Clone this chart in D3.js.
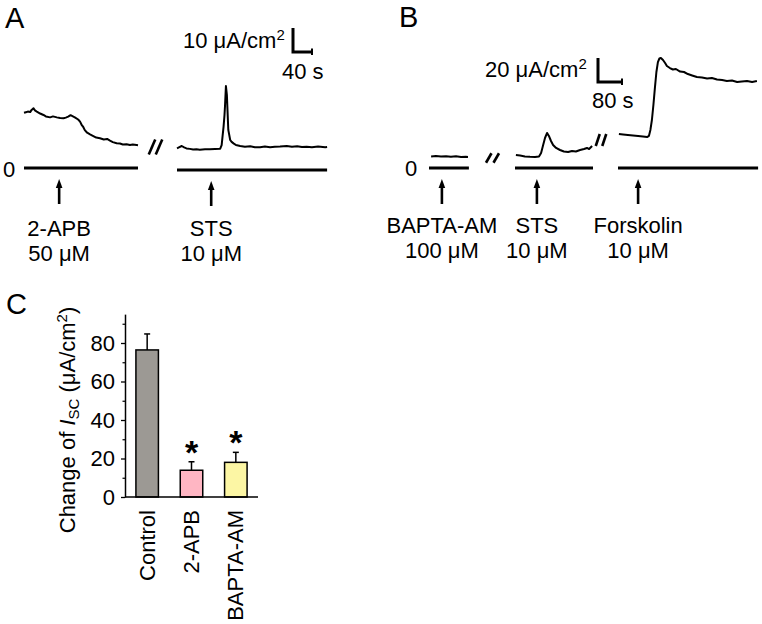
<!DOCTYPE html>
<html><head><meta charset="utf-8">
<script src="https://cdn.jsdelivr.net/npm/d3@7"></script>
<style>
body{margin:0;background:#fff}
svg{display:block}
text{font-family:"Liberation Sans",Arial,Helvetica,sans-serif;fill:#000}
</style>
</head><body>
<svg id="c" width="762" height="624"></svg>
<script>
// ---------- DATA ----------
// Panel A, segment 1 (2-APB): time (s), Isc (µA/cm²)
const a1Time    = [0,4,8,13,16,20,23,27,34,41,46,55,61,69,76,83,88,93,98,103,107,114,118,121,125,128,133,139,146,152,160,168,175,181,187,195,202,208,216,223,229,237,240];
const a1Current = [23.0,23.25,23.5,23.3,24.2,24.9,24.0,23.5,22.7,22.1,21.5,21.1,21.5,21.1,20.8,20.7,21.0,21.4,22.0,21.5,21.1,20.2,19.3,18.1,17.0,15.8,14.7,14.0,13.3,12.7,12.4,11.9,12.1,11.4,10.8,10.3,10.2,9.8,9.9,9.6,9.8,9.6,9.5];
// Panel A, segment 2 (STS)
const a2Time    = [0,4,10,15,20,27,34,41,48,59,69,80,91,94,96,98,100,101,103,105,106,108,112,115,119,124,133,143,154,164,175,185,196,206,217,231,242,253,263,273,284,297,312,316];
const a2Current = [9.0,9.4,10.0,9.4,9.0,8.8,8.5,8.6,8.4,8.6,8.6,8.75,8.9,10.4,14.2,18.0,22.9,26.4,35.0,31.3,26.4,16.7,12.5,11.7,11.1,10.4,10.0,9.7,9.9,9.5,9.5,9.8,9.5,9.7,9.8,10.0,9.7,9.9,9.6,9.7,9.5,9.75,9.5,9.6];
// Panel B, segment 1 (BAPTA-AM)
const b1Time    = [7,23,40,57,73,90,107,123,130];
const b1Current = [9.6,10.0,9.6,9.8,9.3,9.75,9.2,9.3,9.2];
// Panel B, segment 2 (STS)
const b2Time    = [3,17,33,50,67,80,87,93,100,107,113,120,127,137,150,163,177,190,203,217,230,240,247,257];
const b2Current = [10.8,10.4,9.6,9.3,9.2,9.6,12.5,18.3,25.0,29.2,26.7,22.5,19.2,16.7,15.0,13.75,13.3,14.2,13.75,15.0,15.8,16.7,15.8,18.3];
// Panel B, segment 3 (Forskolin)
const b3Time    = [3,17,33,50,67,83,97,103,108,113,118,123,128,133,138,143,150,157,163,173,183,193,207,220,233,247,263,280,297,313,330,347,363,380,397,413,430,447,463];
const b3Current = [28.3,27.9,27.5,27.1,26.7,26.25,25.8,26.7,31.7,40.0,52.5,66.7,80.0,88.3,91.25,91.7,90.0,87.5,85.0,83.3,82.1,82.5,80.4,80.0,78.3,77.1,75.8,75.4,74.6,75.0,73.75,73.3,72.5,72.9,71.7,72.1,72.5,71.7,72.5];

// Drug application times (s) and labels
const arrowTimes  = [74, 72, 43, 73, 67];
const drugNames   = ["2-APB", "STS", "BAPTA-AM", "STS", "Forskolin"];
const drugDoses   = ["50 μM", "10 μM", "100 μM", "10 μM", "10 μM"];
const segDurations = [240, 316, 133, 260, 467];

// Scale bars
const scaleBarA = {current: 10, time: 40};
const scaleBarB = {current: 20, time: 80};

// Panel C
const barCategories = ["Control", "2-APB", "BAPTA-AM"];
const barMeans      = [76.4, 13.9, 18.0];
const barSEM        = [8.3, 4.4, 5.2];
const barSignif     = [false, true, true];
const barColors     = ["#9c9994", "#ffb6c3", "#fcf6a4"];
const yMajorTicks   = [0, 20, 40, 60, 80];
const yMinorTicks   = [10, 30, 50, 70, 90];

// ---------- DRAW ----------
const svg = d3.select("#c");
const FS = 22;

// panel letters
svg.append("text").attr("x", 5).attr("y", 28).attr("font-size", 29).text("A");
svg.append("text").attr("x", 399).attr("y", 27).attr("font-size", 29).text("B");
svg.append("text").attr("x", 6).attr("y", 314).attr("font-size", 29).text("C");

// panel geometry: px per second and px per µA/cm²
const panelA = {pxPerSec: 19 / 40, pxPerUnit: 24 / 10};
const panelB = {pxPerSec: 24 / 80, pxPerUnit: 24 / 20};

const segments = [
  {panel: panelA, x0: 24,  zeroY: 168, t: a1Time, v: a1Current, labelY: 236},
  {panel: panelA, x0: 177, zeroY: 170, t: a2Time, v: a2Current, labelY: 236},
  {panel: panelB, x0: 429, zeroY: 168, t: b1Time, v: b1Current, labelY: 233},
  {panel: panelB, x0: 515, zeroY: 168, t: b2Time, v: b2Current, labelY: 233},
  {panel: panelB, x0: 618, zeroY: 168, t: b3Time, v: b3Current, labelY: 233}
];

segments.forEach((s, i) => {
  const dur = segDurations[i];
  const x = d3.scaleLinear().domain([0, dur]).range([s.x0, s.x0 + dur * s.panel.pxPerSec]);
  const y = d3.scaleLinear().domain([0, 10]).range([s.zeroY, s.zeroY - 10 * s.panel.pxPerUnit]);
  const g = svg.append("g");
  // zero line
  g.append("line").attr("x1", x(0)).attr("x2", x(dur)).attr("y1", y(0)).attr("y2", y(0))
    .attr("stroke", "#000").attr("stroke-width", 3);
  // trace
  const pts = s.t.map((tt, k) => [tt, s.v[k]]);
  g.append("path").datum(pts)
    .attr("d", d3.line().x(d => x(d[0])).y(d => y(d[1])))
    .attr("fill", "none").attr("stroke", "#000").attr("stroke-width", 2).attr("stroke-linejoin", "round");
  // arrow
  const ax = x(arrowTimes[i]);
  const tip = y(0) + 11;
  g.append("line").attr("x1", ax).attr("x2", ax).attr("y1", tip + 6).attr("y2", y(0) + 36)
    .attr("stroke", "#000").attr("stroke-width", 2.6);
  g.append("path").attr("d", `M${ax},${tip} L${ax - 3.3},${tip + 9} L${ax + 3.3},${tip + 9} Z`).attr("fill", "#000");
  // labels
  g.append("text").attr("x", ax).attr("y", s.labelY).attr("text-anchor", "middle").attr("font-size", FS).text(drugNames[i]);
  g.append("text").attr("x", ax).attr("y", s.labelY + 25).attr("text-anchor", "middle").attr("font-size", FS).text(drugDoses[i]);
});

// zero labels
svg.append("text").attr("x", 3).attr("y", 176.5).attr("font-size", FS).text("0");
svg.append("text").attr("x", 405).attr("y", 176).attr("font-size", FS).text("0");

// break marks
function breakMark(cx, cy, w, h, gap) {
  [-gap / 2, gap / 2].forEach(off => {
    svg.append("line")
      .attr("x1", cx + off - w / 2).attr("y1", cy + h / 2)
      .attr("x2", cx + off + w / 2).attr("y2", cy - h / 2)
      .attr("stroke", "#000").attr("stroke-width", 2.6);
  });
}
breakMark(155.5, 147, 6.5, 15, 7);
breakMark(492.5, 158, 5.5, 9.5, 7.5);
breakMark(601, 140, 4, 12, 6.5);

// scale bars
function scaleBar(panel, sb, x, yTop, label, tx, ty, sx, sy) {
  const h = sb.current * panel.pxPerUnit;
  const w = sb.time * panel.pxPerSec;
  svg.append("path").attr("d", `M${x},${yTop} V${yTop + h} H${x + w}`)
    .attr("fill", "none").attr("stroke", "#000").attr("stroke-width", 3).attr("stroke-linejoin", "miter");
  svg.append("line").attr("x1", x + w).attr("x2", x + w).attr("y1", yTop + h - 3.5).attr("y2", yTop + h + 3)
    .attr("stroke", "#000").attr("stroke-width", 2);
  const t = svg.append("text").attr("x", tx).attr("y", ty).attr("font-size", FS);
  t.append("tspan").text(label + " μA/cm");
  t.append("tspan").attr("font-size", 15).attr("dy", -8).text("2");
  svg.append("text").attr("x", sx).attr("y", sy).attr("font-size", FS).text(sb.time + " s");
}
scaleBar(panelA, scaleBarA, 293, 28, String(scaleBarA.current), 183, 48, 282, 79);
scaleBar(panelB, scaleBarB, 598, 58, String(scaleBarB.current), 485, 77, 592, 108);

// ---------- Panel C ----------
const yC = d3.scaleLinear().domain([0, 95]).range([497, 497 - 95 * 1.925]);
const xC = d3.scalePoint().domain(barCategories).range([125, 258]).padding(0.5);
const barW = 22.5;

const gC = svg.append("g");
// bars
barCategories.forEach((c, i) => {
  const cx = xC(c);
  gC.append("rect").attr("x", cx - barW / 2).attr("y", yC(barMeans[i]))
    .attr("width", barW).attr("height", yC(0) - yC(barMeans[i]))
    .attr("fill", barColors[i]).attr("stroke", "#000").attr("stroke-width", 1.5);
  const top = yC(barMeans[i] + barSEM[i]);
  gC.append("line").attr("x1", cx).attr("x2", cx).attr("y1", yC(barMeans[i])).attr("y2", top)
    .attr("stroke", "#000").attr("stroke-width", 1.5);
  gC.append("line").attr("x1", cx - 3).attr("x2", cx + 3).attr("y1", top).attr("y2", top)
    .attr("stroke", "#000").attr("stroke-width", 1.5);
  if (barSignif[i]) {
    gC.append("text").attr("x", cx).attr("y", top + 2).attr("text-anchor", "middle")
      .attr("font-size", 34).attr("font-weight", "bold").text("*");
  }
  gC.append("text").attr("transform", `translate(${cx + 7.5},510) rotate(-90)`)
    .attr("text-anchor", "end").attr("font-size", FS).text(c);
});
// x axis line
gC.append("line").attr("x1", 125).attr("x2", 258).attr("y1", yC(0)).attr("y2", yC(0))
  .attr("stroke", "#000").attr("stroke-width", 1.5);
// y axis
const yAxis = gC.append("g").attr("transform", "translate(125,0)")
  .call(d3.axisLeft(yC).tickValues(yMajorTicks).tickSize(4).tickSizeOuter(0).tickPadding(6));
yAxis.select(".domain").attr("stroke-width", 1.5);
yAxis.selectAll(".tick line").attr("stroke-width", 1.3);
yAxis.selectAll(".tick text").attr("font-size", FS).attr("font-family", "Liberation Sans, Arial, sans-serif").attr("fill", "#000");
const yMinor = gC.append("g").attr("transform", "translate(125,0)")
  .call(d3.axisLeft(yC).tickValues(yMinorTicks).tickSize(2.5).tickFormat(""));
yMinor.select(".domain").remove();
yMinor.selectAll(".tick line").attr("stroke-width", 1.2);

// y label
const yl = svg.append("text").attr("transform", "translate(75,420) rotate(-90)")
  .attr("text-anchor", "middle").attr("font-size", FS);
yl.append("tspan").text("Change of ");
yl.append("tspan").attr("font-style", "italic").text("I");
yl.append("tspan").attr("font-size", 15).attr("dy", 4).text("SC");
yl.append("tspan").attr("dy", -4).text(" (μA/cm");
yl.append("tspan").attr("font-size", 15).attr("dy", -8).text("2");
yl.append("tspan").attr("dy", 8).text(")");
</script>
</body></html>
